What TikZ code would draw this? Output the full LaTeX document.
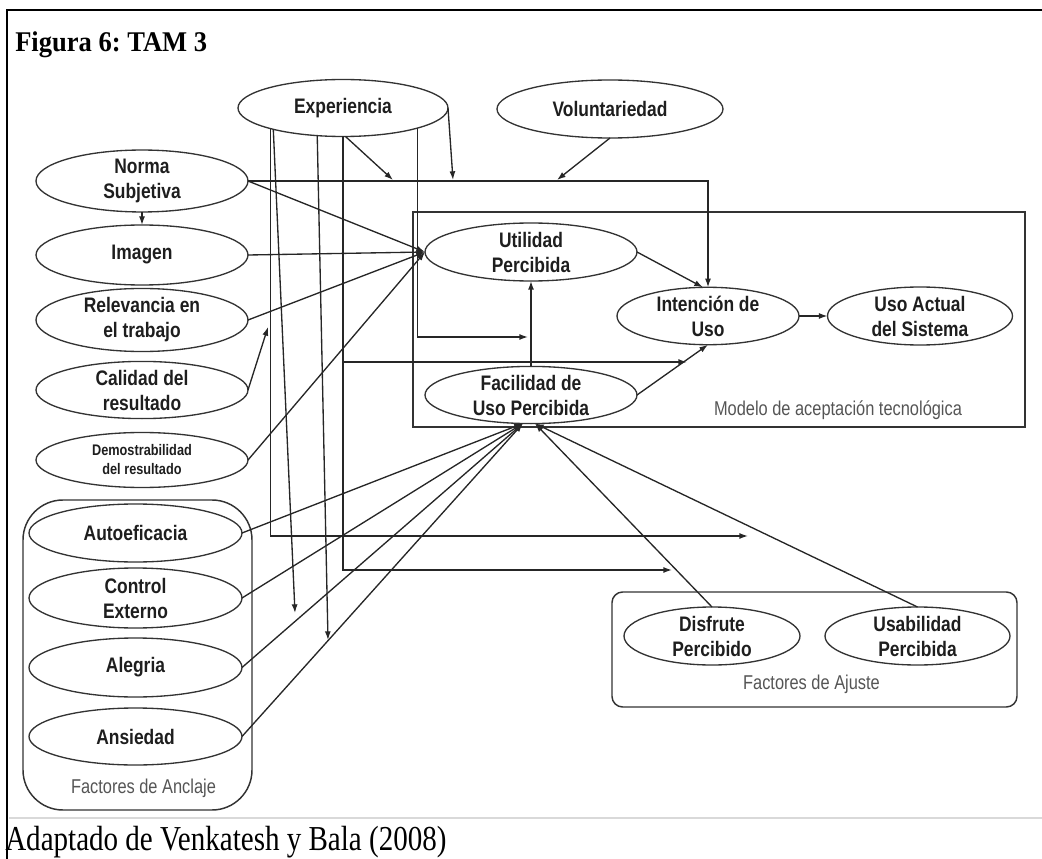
\documentclass[tikz,border=0pt]{standalone}
\usepackage{fontspec}
\setmainfont{Liberation Serif}
\newfontfamily\lblfont{Liberation Sans}[FakeStretch=0.83]
\newfontfamily\notefont{Liberation Sans}[FakeStretch=0.82]
\newfontfamily\titlefont{Liberation Serif}[FakeStretch=0.93]
\newfontfamily\capfont{Liberation Serif}[FakeStretch=0.83]
\frenchspacing
\usetikzlibrary{arrows.meta,shapes.geometric}
\definecolor{ink}{HTML}{1E1E1E}
\definecolor{edgegray}{HTML}{333333}
\definecolor{notegray}{HTML}{555555}

\begin{document}
\begin{tikzpicture}[x=0.75pt,y=-0.75pt,
  construct/.style={ellipse, draw=edgegray, line width=1pt, inner sep=0pt, outer sep=0pt,
    align=center, text=ink, font={\lblfont\bfseries\fontsize{15.75}{18.75}\selectfont}},
  dims/.style 2 args={minimum width=#1*0.75pt, minimum height=#2*0.75pt},
  link/.style={draw=black!85, line width=1pt, -{Latex[length=6.5pt,width=4.5pt]}},
  groupbox/.style={draw=edgegray, line width=1.1pt},
  grouplabel/.style={text=notegray, inner sep=0pt, font={\notefont\fontsize{15}{17}\selectfont}}
]
\useasboundingbox (0,0) rectangle (1042,859);

% page frame and footer rule
\draw[black, line width=1.5pt] (1042,10) -- (7,10) -- (7,859);
\draw[gray!30, line width=1.2pt] (9,818) -- (1042,818);

% title and source
\node[anchor=base west, inner sep=0pt, font={\titlefont\bfseries\fontsize{21.4}{25}\selectfont}] (title) at (15,52) {Figura 6: TAM 3};
\node[anchor=base west, inner sep=0pt, font={\capfont\fontsize{26.25}{30}\selectfont}] (source) at (5,850) {Adaptado de Venkatesh y Bala (2008)};

% group frames
\draw[groupbox] (413,212) rectangle (1025,427);
\draw[groupbox, rounded corners=30pt] (23,500) rectangle (252,810);
\draw[groupbox, rounded corners=8pt] (612,592) rectangle (1017,707);

\node[grouplabel] (tamlabel) at (838,410) {Modelo de aceptación tecnológica};
\node[grouplabel] (anclabel) at (143.5,788) {Factores de Anclaje};
\node[grouplabel] (ajulabel) at (811.5,684) {Factores de Ajuste};

% constructs
\node[construct, dims={210}{57}] (exp) at (343,108) {Experiencia};
\node[construct, dims={226}{58}] (vol) at (610,109) {Voluntariedad};
\node[construct, dims={212}{60}] (ns) at (142,181) {Norma\\Subjetiva};
\node[construct, dims={212}{60}] (img) at (142,255) {Imagen};
\node[construct, dims={212}{56}] (rel) at (142,320) {Relevancia en\\el trabajo};
\node[construct, dims={212}{54}] (cal) at (142,390) {Calidad del\\resultado};
\node[construct, dims={212}{55}, font={\lblfont\bfseries\fontsize{11.5}{14.25}\selectfont}] (dem) at (142,460) {Demostrabilidad\\del resultado};
\node[construct, dims={213}{58}] (auto) at (135.5,533) {Autoeficacia};
\node[construct, dims={213}{60}] (ce) at (135.5,598) {Control\\Externo};
\node[construct, dims={213}{59}] (ale) at (135.5,667.5) {Alegria};
\node[construct, dims={213}{57}] (ans) at (135.5,736.5) {Ansiedad};
\node[construct, dims={212}{58}] (up) at (531,252) {Utilidad\\Percibida};
\node[construct, dims={182}{57}] (iu) at (708,316) {Intención de\\Uso};
\node[construct, dims={185}{58}] (ua) at (920,316) {Uso Actual\\del Sistema};
\node[construct, dims={212}{56}] (peou) at (531,395) {Facilidad de\\Uso Percibida};
\node[construct, dims={176}{58}] (dis) at (712,636) {Disfrute\\Percibido};
\node[construct, dims={185}{58}] (usa) at (917.5,636) {Usabilidad\\Percibida};

% ends of the moderating arrows
\coordinate (snTipA) at (393,180);
\coordinate (snTipB) at (453,180);
\coordinate (volTip) at (557,180);
\coordinate (relTip) at (268,327);
\coordinate (puTip) at (528,337);
\coordinate (biTip) at (687,362);
\coordinate (useTip) at (748,536);
\coordinate (enjTip) at (672,570);
\coordinate (aleTip) at (295,613);
\coordinate (ansTip) at (328,640);

% determinants of perceived usefulness
\draw[link] (ns) -- (img);
\draw[link] (ns.east) -- (up.west);
\draw[link] (ns.east) -- (ns.east -| iu.north) -- (iu.north);
\draw[link] (img.east) -- (up.west);
\draw[link] (rel.east) -- (up.west);
\draw[link] (cal.east) -- (relTip);
\draw[link] (dem.east) -- (up.west);

% core model
\draw[link] (up.east) -- (iu.100);
\draw[link] (peou.east) -- (iu.south);
\draw[link] (peou) -- (up);
\draw[link] (iu) -- (ua);

% moderators
\draw[link] (vol.south) -- (volTip);
\draw[link] (exp.-85) -- (snTipA);
\draw[link] (exp.east) -- (snTipB);
\draw[link] (exp.196) |- (useTip);
\draw[link] (exp.197) -- (aleTip);
\draw[link] (exp.227) -- (ansTip);
\draw[link] (exp.south) |- (enjTip);
\draw[link] (exp.south |- biTip) -- (biTip);
\draw[link] (exp.-15) |- (puTip);

% determinants of perceived ease of use
\draw[link] (auto.east) -- (peou.254);
\draw[link] (ce.east) -- (peou.254);
\draw[link] (ale.east) -- (peou.254);
\draw[link] (ans.east) -- (peou.254);
\draw[link] (dis.north) -- (peou.278);
\draw[link] (usa.north) -- (peou.278);
\end{tikzpicture}
\end{document}
